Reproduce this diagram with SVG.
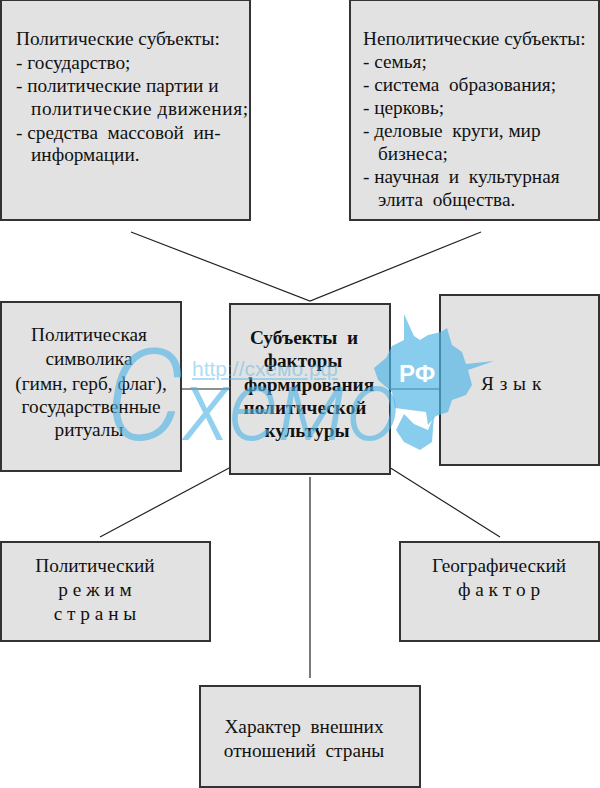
<svg xmlns="http://www.w3.org/2000/svg" width="600" height="788" viewBox="0 0 600 788">
<style>
.b{fill:#e2e2e2;stroke:#333;stroke-width:2}
.c{stroke:#222;stroke-width:1.2;fill:none}
text{font-family:"Liberation Serif",serif;font-size:19.3px;fill:#111;white-space:pre}
.m{text-anchor:middle}
.w{fill:#4fb4e6;opacity:.68}
.h{font-weight:700}
</style>
<rect width="600" height="788" fill="#fff"/>
<g id="connectors">
<path class="c" d="M131 232L310 301L481 232M181 389H231M389 389H440M231 467L100 537M389 467L500 537M310 477V678"/>
</g>
<g id="n1"><rect class="b" x="1" y="0" width="249" height="220"/>
<text x="16" y="45">Политические субъекты:</text>
<text x="16" y="69">- государство;</text>
<text x="16" y="92">- политические партии и</text>
<text x="31" y="115" textLength="217">политические движения;</text>
<text x="16" y="139">- средства  массовой  ин-</text>
<text x="31" y="161">информации.</text></g>
<g id="n2"><rect class="b" x="350" y="0" width="249" height="220"/>
<text x="363" y="45">Неполитические субъекты:</text>
<text x="363" y="68">- семья;</text>
<text x="363" y="91">- система  образования;</text>
<text x="363" y="114">- церковь;</text>
<text x="363" y="137">- деловые  круги, мир</text>
<text x="378" y="160">бизнеса;</text>
<text x="363" y="183">- научная  и  культурная</text>
<text x="378" y="206">элита  общества.</text></g>
<g id="n3"><rect class="b" x="1" y="302" width="180" height="169"/>
<text class="m" x="89" y="341">Политическая</text>
<text class="m" x="89" y="365">символика</text>
<text class="m" x="91" y="390">(гимн, герб, флаг),</text>
<text class="m" x="91" y="413">государственные</text>
<text class="m" x="89" y="436">ритуалы</text></g>
<g id="n4"><rect class="b" x="230" y="304" width="160" height="170"/>
<text class="m h" x="304" y="344">Субъекты  и</text>
<text class="m h" x="303" y="367">факторы</text>
<text class="m h" x="309" y="391">формирования</text>
<text class="m h" x="305" y="414">политической</text>
<text class="m h" x="307" y="437">культуры</text></g>
<g id="n5"><rect class="b" x="440" y="295" width="159" height="170"/>
<text x="481" y="390" letter-spacing="0.5">Я з ы к</text></g>
<g id="n6"><rect class="b" x="1" y="542" width="209" height="99"/>
<text class="m" x="95" y="572">Политический</text>
<text class="m" x="95" y="596">р е ж и м</text>
<text class="m" x="95" y="620">с т р а н ы</text></g>
<g id="n7"><rect class="b" x="400" y="542" width="199" height="99"/>
<text class="m" x="499" y="572">Географический</text>
<text class="m" x="499" y="596">ф а к т о р</text></g>
<g id="n8"><rect class="b" x="200" y="686" width="220" height="101"/>
<text class="m" x="304" y="733">Характер  внешних</text>
<text class="m" x="304" y="757">отношений  страны</text></g>
<g id="watermark">
<path class="w" d="M404 314L414 336L420 340L428 335L441 332L447 328L452 345L462 352L466 364L494 361L468 370L472 385L466 395L452 400L448 412L436 416L428 425L426 412L410 410L395 408L392 392L378 380L374 368L386 358L392 346L404 340Z"/>
<path class="w" d="M404 414L414 424L428 430L434 416L432 442L420 450L404 442L396 430Z"/>
<text x="105" y="440" style="font-family:Roboto,sans-serif;font-size:100px;font-weight:300;font-style:italic;fill:#4fb4e6;opacity:.62" textLength="295" lengthAdjust="spacingAndGlyphs"><tspan style="font-size:128px">С</tspan>хемо</text>
<text x="192" y="376" style="font-family:'Liberation Sans',sans-serif;font-size:21px;fill:#4fb4e6;opacity:.45" text-decoration="underline">http://схемо.рф</text>
<text x="399" y="382" style="font-family:'Liberation Sans',sans-serif;font-size:24px;font-weight:700;fill:#fff">РФ</text>
</g>
</svg>
